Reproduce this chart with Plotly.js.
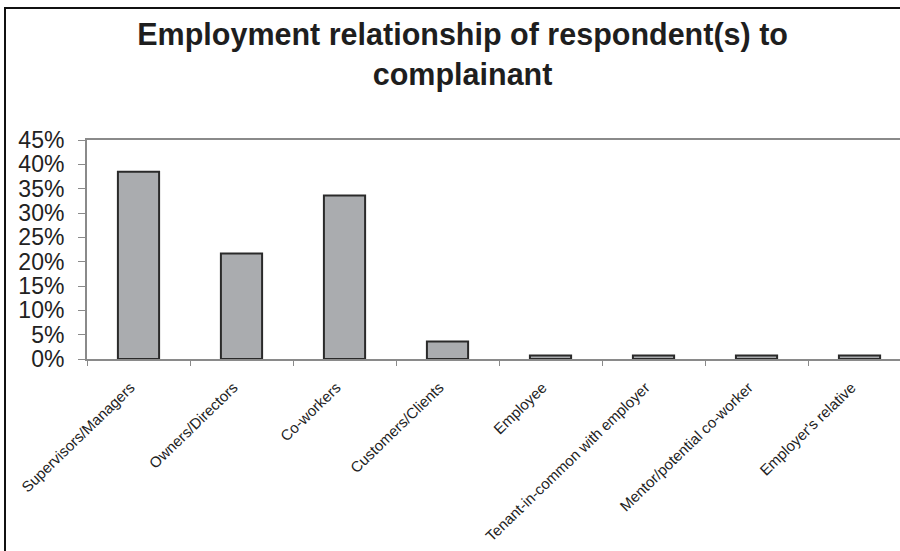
<!DOCTYPE html>
<html>
<head>
<meta charset="utf-8">
<script src="https://cdn.plot.ly/plotly-3.0.1.min.js"></script>
<style>
html,body{margin:0;padding:0;background:#fff;}
#wrap{position:relative;width:900px;height:551px;overflow:hidden;}
#chart{position:absolute;left:0;top:0;width:900px;height:551px;}
#frame{position:absolute;left:4px;top:7px;width:900px;height:560px;border-left:2px solid #111;border-top:2px solid #111;pointer-events:none;}
</style>
</head>
<body>
<div id="wrap"><div id="chart"></div><div id="frame"></div></div>
<script>
const categories = ["Supervisors/Managers","Owners/Directors","Co-workers","Customers/Clients","Employee","Tenant-in-common with employer","Mentor/potential co-worker","Employer's relative"];
const percentages = [38.5, 21.7, 33.6, 3.6, 0.7, 0.7, 0.7, 0.7];
const yTickValues = [0,5,10,15,20,25,30,35,40,45];
const yTickLabels = yTickValues.map(v => v + '%');
const chartTitle = "Employment relationship of respondent(s) to<br>complainant";

const trace = {
  type: 'bar',
  x: categories,
  y: percentages,
  width: 0.4,
  marker: {color: '#aaacaf', line: {color: '#2a2a2a', width: 2}},
  hoverinfo: 'x+y'
};

const layout = {
  width: 900, height: 551,
  margin: {l: 87, r: 0, t: 140, b: 192, pad: 0},
  paper_bgcolor: '#fff', plot_bgcolor: '#fff',
  showlegend: false,
  title: {
    text: chartTitle,
    font: {family: 'Liberation Sans, Arial, sans-serif', size: 30.5, color: '#1e1e1e', weight: 'bold'},
    xref: 'container', x: 0.514, xanchor: 'center',
    yref: 'container', y: 0.918, yanchor: 'top'
  },
  xaxis: {
    type: 'category',
    range: [-0.5, 7.393],
    showline: true, linecolor: '#8a8a8a', linewidth: 2, mirror: true,
    showgrid: false, zeroline: false,
    ticks: 'outside', ticklen: 5, tickcolor: '#8a8a8a', tickwidth: 1,
    tickson: 'boundaries',
    tickangle: -44,
    ticklabelstandoff: 12,
    ticklabelshift: -8,
    tickfont: {family: 'Liberation Sans, Arial, sans-serif', size: 15, color: '#222'}
  },
  yaxis: {
    range: [0, 45],
    tickmode: 'array',
    tickvals: yTickValues,
    ticktext: yTickLabels,
    showline: true, linecolor: '#8a8a8a', linewidth: 2,
    showgrid: false, zeroline: false,
    ticks: 'outside', ticklen: 7, tickcolor: '#8a8a8a', tickwidth: 1,
    ticklabelstandoff: 9,
    tickfont: {family: 'Liberation Sans, Arial, sans-serif', size: 23, color: '#222'}
  },
  bargap: 0.6
};

Plotly.newPlot('chart', [trace], layout, {displayModeBar: false, staticPlot: true});
</script>
</body>
</html>
